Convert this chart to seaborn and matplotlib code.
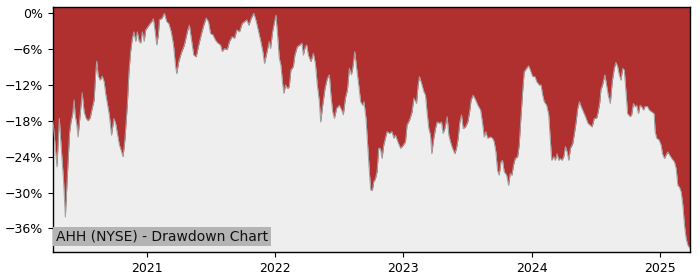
import numpy as np
import pandas as pd
import matplotlib
matplotlib.use("Agg")
import matplotlib.pyplot as plt
import matplotlib.dates as mdates
from matplotlib.ticker import FuncFormatter
import seaborn as sns

# decimal-year time stamps
years = [
    2020.268, 2020.284, 2020.299, 2020.307, 2020.317, 2020.327, 2020.338, 2020.350, 2020.364, 2020.373,
    2020.385, 2020.397, 2020.409, 2020.420, 2020.432, 2020.440, 2020.452, 2020.463, 2020.479, 2020.495,
    2020.510, 2020.526, 2020.541, 2020.557, 2020.573, 2020.588, 2020.600, 2020.608, 2020.620, 2020.635,
    2020.651, 2020.666, 2020.678, 2020.690, 2020.706, 2020.723, 2020.742, 2020.756, 2020.768, 2020.784,
    2020.799, 2020.813, 2020.828, 2020.846, 2020.859, 2020.872, 2020.885, 2020.898, 2020.911, 2020.924,
    2020.938, 2020.950, 2020.963, 2020.977, 2020.989, 2021.008, 2021.024, 2021.036, 2021.049, 2021.063,
    2021.075, 2021.088, 2021.096, 2021.117, 2021.135, 2021.153, 2021.169, 2021.188, 2021.206, 2021.221,
    2021.231, 2021.247, 2021.266, 2021.291, 2021.317, 2021.330, 2021.348, 2021.364, 2021.383, 2021.403,
    2021.422, 2021.442, 2021.461, 2021.479, 2021.495, 2021.513, 2021.534, 2021.552, 2021.573, 2021.586,
    2021.604, 2021.625, 2021.643, 2021.664, 2021.682, 2021.700, 2021.721, 2021.742, 2021.760, 2021.778,
    2021.794, 2021.813, 2021.833, 2021.852, 2021.870, 2021.885, 2021.903, 2021.916, 2021.930, 2021.953,
    2021.963, 2021.979, 2021.997, 2022.005, 2022.018, 2022.031, 2022.044, 2022.057, 2022.067, 2022.081,
    2022.096, 2022.109, 2022.122, 2022.141, 2022.153, 2022.172, 2022.192, 2022.208, 2022.219, 2022.234,
    2022.245, 2022.258, 2022.278, 2022.297, 2022.313, 2022.328, 2022.344, 2022.354, 2022.370, 2022.388,
    2022.406, 2022.422, 2022.434, 2022.448, 2022.461, 2022.479, 2022.500, 2022.518, 2022.531, 2022.547,
    2022.563, 2022.578, 2022.594, 2022.604, 2022.620, 2022.635, 2022.651, 2022.666, 2022.682, 2022.692,
    2022.708, 2022.721, 2022.734, 2022.745, 2022.758, 2022.768, 2022.781, 2022.794, 2022.807, 2022.820,
    2022.833, 2022.846, 2022.859, 2022.872, 2022.891, 2022.911, 2022.924, 2022.938, 2022.956, 2022.977,
    2022.997, 2023.016, 2023.028, 2023.047, 2023.067, 2023.081, 2023.102, 2023.114, 2023.125, 2023.141,
    2023.159, 2023.172, 2023.184, 2023.198, 2023.211, 2023.221, 2023.237, 2023.250, 2023.263, 2023.281,
    2023.297, 2023.309, 2023.323, 2023.341, 2023.354, 2023.367, 2023.383, 2023.401, 2023.414, 2023.427,
    2023.440, 2023.453, 2023.466, 2023.484, 2023.502, 2023.516, 2023.528, 2023.544, 2023.563, 2023.581,
    2023.602, 2023.617, 2023.630, 2023.643, 2023.656, 2023.677, 2023.695, 2023.708, 2023.721, 2023.734,
    2023.747, 2023.760, 2023.773, 2023.786, 2023.805, 2023.820, 2023.833, 2023.846, 2023.859, 2023.872,
    2023.891, 2023.903, 2023.916, 2023.930, 2023.942, 2023.961, 2023.977, 2023.995, 2024.008, 2024.026,
    2024.041, 2024.059, 2024.073, 2024.086, 2024.098, 2024.117, 2024.133, 2024.143, 2024.156, 2024.172,
    2024.184, 2024.198, 2024.211, 2024.223, 2024.237, 2024.250, 2024.263, 2024.276, 2024.289, 2024.302,
    2024.320, 2024.333, 2024.346, 2024.359, 2024.372, 2024.385, 2024.403, 2024.419, 2024.438, 2024.453,
    2024.471, 2024.487, 2024.505, 2024.518, 2024.531, 2024.539, 2024.552, 2024.570, 2024.583, 2024.596,
    2024.612, 2024.627, 2024.643, 2024.656, 2024.669, 2024.682, 2024.695, 2024.708, 2024.721, 2024.734,
    2024.747, 2024.766, 2024.778, 2024.792, 2024.805, 2024.817, 2024.831, 2024.844, 2024.856, 2024.870,
    2024.883, 2024.901, 2024.916, 2024.934, 2024.953, 2024.961, 2024.973, 2024.992, 2025.008, 2025.018,
    2025.034, 2025.047, 2025.059, 2025.073, 2025.091, 2025.112, 2025.125, 2025.138, 2025.151, 2025.164,
    2025.177, 2025.190, 2025.203, 2025.216, 2025.233,
]

# drawdown in percent
drawdown = [
    -18.0, -22.0, -25.7, -22.0, -17.6, -21.0, -24.3, -28.0, -34.1, -30.0,
    -24.9, -20.0, -18.0, -17.0, -14.5, -17.0, -18.5, -20.7, -17.0, -13.3,
    -16.5, -17.6, -18.0, -17.5, -15.9, -14.5, -10.0, -8.0, -10.5, -11.2,
    -10.5, -11.5, -13.5, -15.0, -17.0, -20.4, -17.6, -18.5, -20.0, -22.0,
    -23.0, -24.0, -21.0, -15.4, -9.8, -6.4, -4.2, -3.1, -4.7, -3.1,
    -4.7, -5.0, -3.1, -4.7, -2.8, -2.2, -1.7, -1.4, -0.9, -3.1,
    -5.3, -3.6, -1.1, -0.8, 0.0, -1.4, -1.7, -3.1, -5.3, -8.7,
    -10.1, -8.1, -6.7, -5.3, -2.8, -2.0, -4.7, -7.0, -7.3, -5.3,
    -3.6, -2.0, -0.8, -1.4, -3.4, -3.6, -4.5, -5.0, -5.3, -6.4,
    -5.9, -6.1, -4.7, -3.9, -4.2, -2.8, -3.1, -1.7, -1.4, -1.1,
    -2.0, -0.8, 0.0, -1.4, -3.1, -4.5, -6.4, -8.4, -7.0, -4.7,
    -5.9, -3.1, -1.1, -0.3, -3.6, -7.5, -8.7, -11.7, -13.4, -12.0,
    -12.6, -12.3, -9.5, -8.9, -7.0, -5.6, -5.3, -5.0, -7.0, -5.6,
    -5.3, -7.0, -8.1, -6.7, -8.4, -12.0, -14.8, -18.2, -15.4, -12.6,
    -10.9, -10.3, -13.7, -16.5, -17.6, -15.9, -15.4, -16.2, -17.0, -14.2,
    -12.8, -9.2, -10.3, -9.2, -6.4, -9.2, -12.0, -14.8, -15.4, -14.8,
    -17.6, -22.1, -26.5, -29.6, -29.6, -28.2, -27.7, -26.5, -22.6, -22.6,
    -24.3, -22.1, -20.9, -19.8, -20.1, -19.8, -20.9, -20.4, -21.5, -22.6,
    -22.1, -21.5, -18.7, -17.9, -16.5, -14.2, -15.1, -12.0, -10.6, -11.7,
    -13.1, -13.7, -16.5, -19.3, -20.4, -23.5, -20.9, -19.3, -18.2, -18.4,
    -18.2, -20.1, -19.3, -17.3, -20.4, -21.5, -22.6, -23.5, -22.6, -20.9,
    -18.2, -17.0, -19.3, -19.0, -18.2, -16.5, -14.5, -13.7, -14.5, -15.4,
    -16.2, -18.4, -20.7, -19.8, -20.9, -20.7, -20.9, -21.5, -23.2, -26.3,
    -27.1, -24.9, -24.6, -26.5, -27.1, -28.8, -26.8, -27.1, -25.4, -24.3,
    -24.0, -22.1, -17.6, -13.1, -9.8, -9.2, -8.8, -9.8, -10.6, -10.6,
    -11.5, -12.0, -12.0, -13.7, -14.8, -15.4, -17.0, -20.4, -24.6, -24.0,
    -24.6, -23.5, -24.6, -24.3, -24.6, -24.0, -22.3, -23.2, -24.6, -22.6,
    -21.8, -20.1, -18.2, -15.9, -14.8, -15.6, -16.5, -17.3, -18.4, -18.7,
    -19.0, -17.6, -17.6, -16.5, -14.8, -12.8, -12.0, -10.3, -12.0, -13.7,
    -15.1, -11.5, -9.2, -8.2, -8.9, -10.3, -11.2, -9.2, -9.5, -13.1,
    -16.8, -17.3, -17.0, -15.1, -15.6, -15.4, -16.8, -15.4, -15.6, -16.2,
    -15.6, -15.6, -16.2, -16.5, -16.8, -19.8, -20.9, -21.2, -22.1, -23.5,
    -24.3, -23.7, -23.2, -23.7, -24.3, -24.9, -26.0, -28.8, -29.1, -29.9,
    -32.1, -35.5, -37.7, -38.8, -39.4,
]

y_ticks = [0, -6, -12, -18, -24, -30, -36]
title_text = "AHH (NYSE) - Drawdown Chart"


def to_date(t):
    yr = int(np.floor(t))
    start = pd.Timestamp(year=yr, month=1, day=1)
    end = pd.Timestamp(year=yr + 1, month=1, day=1)
    return start + (end - start) * (t - yr)


df = pd.DataFrame({"date": [to_date(t) for t in years], "dd": drawdown})

sns.set_style("ticks")
plt.rcParams["font.family"] = ["DejaVu Sans"]

fig = plt.figure(figsize=(7, 2.8), dpi=100)
ax = fig.add_axes([0.0757, 0.099, 0.91, 0.875])
ax.set_facecolor("#eeeeee")

ymin, ymax = -40, 1
ax.fill_between(df["date"], ymax, df["dd"], color="#b03030", linewidth=0, zorder=2)
sns.lineplot(data=df, x="date", y="dd", ax=ax, color="#a0a0a0", linewidth=0.7, zorder=3)

ax.set_xlim(df["date"].iloc[0], df["date"].iloc[-1])
ax.set_ylim(ymin, ymax)
ax.set_yticks(y_ticks)
ax.yaxis.set_major_formatter(FuncFormatter(lambda v, p: f"{int(v)}%".replace("-", "\u2212")))
ax.xaxis.set_major_locator(mdates.YearLocator())
ax.xaxis.set_major_formatter(mdates.DateFormatter("%Y"))
ax.set_xlabel("")
ax.set_ylabel("")
ax.tick_params(axis="both", labelsize=9, length=3.5, color="black", labelcolor="black")
for s in ax.spines.values():
    s.set_visible(True)
    s.set_color("black")
    s.set_linewidth(1.0)

ax.text(0.005, 0.035, title_text, transform=ax.transAxes, fontsize=10, color="#111111",
        ha="left", va="bottom", zorder=5,
        bbox=dict(boxstyle="square,pad=0.2", facecolor="#b4b4b4", edgecolor="none"))

fig.savefig("out.png", dpi=100)
